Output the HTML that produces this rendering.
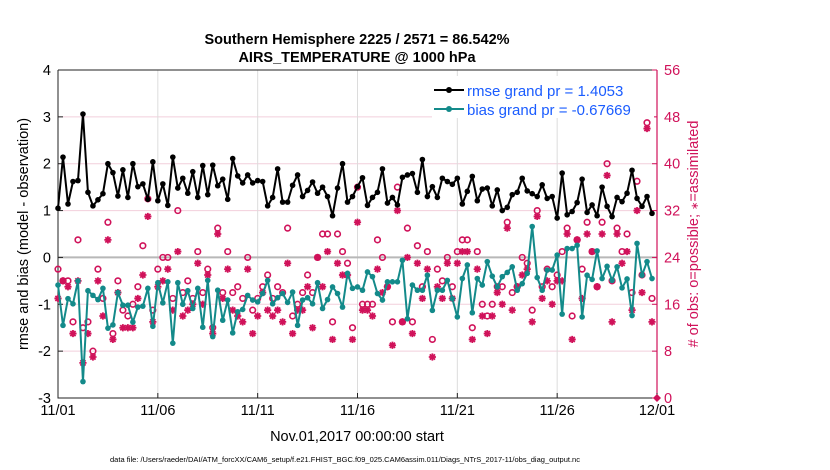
<!DOCTYPE html>
<html><head><meta charset="utf-8"><style>
body{margin:0;background:#fff;}
svg{display:block;font-family:"Liberation Sans",sans-serif;}
</style></head><body>
<svg id="chart" width="830" height="470">
<g id="grid"></g>
<g id="axes"></g>
<g id="marks"></g>
<text x="357" y="44" text-anchor="middle" font-size="14.5" font-weight="bold">Southern Hemisphere 2225 / 2571 = 86.542%</text>
<text x="357" y="62" text-anchor="middle" font-size="14.5" font-weight="bold">AIRS_TEMPERATURE @ 1000 hPa</text>
<text transform="translate(28,234) rotate(-90)" text-anchor="middle" font-size="14.5">rmse and bias (model - observation)</text>
<text transform="translate(698,234) rotate(-90)" text-anchor="middle" font-size="14.5" fill="#d0125a"># of obs: o=possible; <tspan font-size="10">∗</tspan>=assimilated</text>
<text x="357" y="441" text-anchor="middle" font-size="14.5">Nov.01,2017 00:00:00 start</text>
<text x="345" y="462" text-anchor="middle" font-size="7.5">data file: /Users/raeder/DAI/ATM_forcXX/CAM6_setup/f.e21.FHIST_BGC.f09_025.CAM6assim.011/Diags_NTrS_2017-11/obs_diag_output.nc</text>
<g>
<rect x="432" y="76" width="222" height="42" fill="#fff"/>
<line x1="434" y1="90" x2="464" y2="90" stroke="#000" stroke-width="2"/>
<circle cx="449" cy="90" r="3" fill="#000"/>
<text x="467" y="96" font-size="15" fill="#1a5cff">rmse grand pr = 1.4053</text>
<line x1="434" y1="109" x2="464" y2="109" stroke="#138a8a" stroke-width="2"/>
<circle cx="449" cy="109" r="3" fill="#138a8a"/>
<text x="467" y="115" font-size="15" fill="#1a5cff">bias grand pr = -0.67669</text>
</g>
</svg>
<script>
const xTickLabels = ["11/01","11/06","11/11","11/16","11/21","11/26","12/01"];
const xTickDays = [0,5,10,15,20,25,30];
const leftTicks = [-3,-2,-1,0,1,2,3,4];
const rightTicks = [0,8,16,24,32,40,48,56];
const rmse = [1.05,2.14,1.14,1.62,1.64,3.06,1.39,1.10,1.23,1.36,2.00,1.81,1.31,1.87,1.28,2.00,1.51,1.57,1.24,2.04,1.21,1.57,1.11,2.14,1.48,1.69,1.37,1.83,1.28,1.96,1.34,1.97,1.53,1.67,1.24,
2.11,1.74,1.59,1.76,1.59,1.64,1.62,1.10,1.28,1.89,1.18,1.18,1.54,1.76,1.30,1.43,1.61,1.37,1.50,1.30,0.89,1.48,2.00,1.18,1.30,1.51,1.70,1.11,1.28,1.39,1.89,1.16,1.28,
1.12,1.71,1.76,1.79,1.39,2.09,1.30,1.51,1.28,1.69,1.62,1.56,1.69,1.14,1.41,1.73,1.21,1.46,1.48,1.10,1.44,1.00,1.07,1.34,1.39,1.69,1.42,1.36,1.30,1.55,1.26,1.30,0.84,1.80,0.91,
0.98,1.17,1.67,0.96,1.12,0.89,1.50,1.09,0.87,1.28,1.19,1.37,1.86,1.26,1.09,1.30,0.94];
const bias = [-0.59,-1.45,-0.88,-0.99,-0.50,-2.65,-0.71,-0.81,-0.90,-0.66,-1.51,-1.44,-0.75,-1.02,-1.02,-1.38,-1.06,-1.04,-0.66,-1.47,-0.54,-0.97,-0.52,-1.83,-0.54,-1.00,-0.71,-1.09,-0.66,-1.49,-0.49,-1.69,-0.70,-1.34,-0.91,
-1.61,-1.16,-1.11,-0.81,-0.91,-0.95,-0.77,-0.49,-0.99,-0.86,-0.77,-0.96,-0.74,-1.45,-0.91,-0.86,-0.99,-0.54,-1.09,-0.90,-0.63,-0.77,-1.06,-0.34,-0.66,-0.63,-0.70,-0.31,-0.41,-0.77,-0.91,-0.52,-0.52,
-0.52,-0.06,-1.31,-0.59,-0.70,-0.70,-0.38,-1.13,-0.70,-0.70,-0.49,-0.88,-1.27,-0.45,-0.16,-1.18,-0.45,-0.59,-0.09,-0.40,-0.63,-0.41,-0.32,-0.20,-0.70,-0.56,-0.34,0.66,-0.43,-0.70,-0.27,-0.27,0.05,-1.21,0.19,
0.19,0.26,-1.27,-0.38,-0.47,0.14,-0.45,-0.19,-0.49,-0.20,-0.65,-0.46,-1.24,0.30,-0.38,-0.09,-0.45];
const possible = [22,20,20,13,27,12,13,8,22,17,30,11,20,15,14,16,19,26,34,15,22,24,24,17,32,18,20,17,25,18,22,12,29,18,25,
18,19,17,24,15,17,19,21,17,19,18,29,14,16,18,21,18,24,28,28,13,28,25,23,12,36,16,16,16,27,24,19,13,
36,13,29,13,26,19,25,10,22,20,24,19,25,27,27,12,25,16,14,16,19,19,30,18,19,24,23,15,32,19,22,19,21,25,29,
14,27,22,30,25,19,30,40,20,29,25,28,18,37,21,47,17];
const assimilated = [17,20,19,11,20,6,11,7,20,14,27,10,18,12,12,12,17,21,31,13,19,20,22,15,25,14,15,16,23,16,21,11,28,17,22,
15,14,13,22,11,14,18,15,14,15,13,23,11,15,15,19,12,24,19,25,10,23,21,21,10,30,15,15,14,22,18,19,9,
32,13,24,11,23,17,22,7,19,17,23,17,23,25,25,10,22,14,11,14,18,16,29,15,19,21,22,13,31,17,20,16,20,20,28,
10,27,17,28,25,19,28,38,13,28,23,25,15,32,18,46,13];

const X0=58, X1=657, Y0=70, Y1=398;
const xs = d => X0 + (d/30)*(X1-X0);
const xi = i => xs(i*0.25);
const yl = v => Y1 - (v+3)/7*(Y1-Y0);
const yr = c => Y1 - c/56*(Y1-Y0);
const NS='http://www.w3.org/2000/svg';
function mk(parent,tag,attrs){const e=document.createElementNS(NS,tag);for(const k in attrs)e.setAttribute(k,attrs[k]);parent.appendChild(e);return e;}
const grid=document.getElementById('grid'), axes=document.getElementById('axes'), marks=document.getElementById('marks');

rightTicks.forEach(c=>{
  if(c===0||c===56) return;
  const g=mk(grid,'line',{x1:X0,x2:X1,y1:yr(c),y2:yr(c),stroke:'#f2cfdc','stroke-width':1});
  
  
});
xTickDays.forEach(d=>{
  if(d===0||d===30) return;
  const g=mk(grid,'line',{x1:xs(d),x2:xs(d),y1:Y0,y2:Y1,stroke:'#dcdcdc','stroke-width':1});
  
  
});
const zl=mk(grid,'line',{x1:X0,x2:X1,y1:yl(0),y2:yl(0),stroke:'#b8b8b8','stroke-width':2});



// axes
const ax=mk(axes,'path',{d:`M${X0},${Y0}H${X1}M${X0},${Y0}V${Y1}H${X1}`,stroke:'#222',fill:'none','stroke-width':1});


const rax=mk(axes,'line',{x1:X1,x2:X1,y1:Y0,y2:Y1,stroke:'#d0125a','stroke-width':1.2});


leftTicks.forEach(v=>{
  const t=mk(axes,'text',{x:X0-7,y:yl(v)+5,'text-anchor':'end','font-size':14.5});
  t.textContent=v;
  
  
  const tk=mk(axes,'line',{x1:X0,x2:X0+5,y1:yl(v),y2:yl(v),stroke:'#222'});
  
  
});
rightTicks.forEach(c=>{
  const t=mk(axes,'text',{x:X1+7,y:yr(c)+5,'font-size':14.5,fill:'#d0125a'});
  t.textContent=c;
  
  
  const tk=mk(axes,'line',{x1:X1-5,x2:X1,y1:yr(c),y2:yr(c),stroke:'#d0125a'});
  
  
});
xTickDays.forEach((d,i)=>{
  const t=mk(axes,'text',{x:xs(d),y:415,'text-anchor':'middle','font-size':14.5});
  t.textContent=xTickLabels[i];
  
  
  const tk=mk(axes,'line',{x1:xs(d),x2:xs(d),y1:Y1,y2:Y1-5,stroke:'#222'});
  
  
});
const dm=mk(axes,'path',{d:`M${X1-4},${Y1}L${X1},${Y1-4}L${X1+4},${Y1}L${X1},${Y1+4}Z`,fill:'#d0125a'});



// obs counts
const MAG='#d0125a';
possible.forEach((c,i)=>{
  const o=mk(marks,'circle',{cx:xi(i),cy:yr(c),r:2.8,fill:'none',stroke:MAG,'stroke-width':1.6});
  
  
});
assimilated.forEach((c,i)=>{
  const x=xi(i), y=yr(c), s=3.6, d=2.6;
  const a=mk(marks,'path',{d:`M${x-s},${y}H${x+s}M${x},${y-s}V${y+s}M${x-d},${y-d}L${x+d},${y+d}M${x-d},${y+d}L${x+d},${y-d}`,stroke:MAG,'stroke-width':1.8});
  
  
});
function series(vals,color,name){
  const p=mk(marks,'polyline',{points:vals.map((v,i)=>xi(i)+','+yl(v)).join(' '),fill:'none',stroke:color,'stroke-width':2,'stroke-linejoin':'round'});
  
  
  vals.forEach((v,i)=>{
    const c=mk(marks,'circle',{cx:xi(i),cy:yl(v),r:2.8,fill:color});
    
    
  });
}
series(bias,'#138a8a','bias');
series(rmse,'#000','rmse');
</script>
</body></html>
